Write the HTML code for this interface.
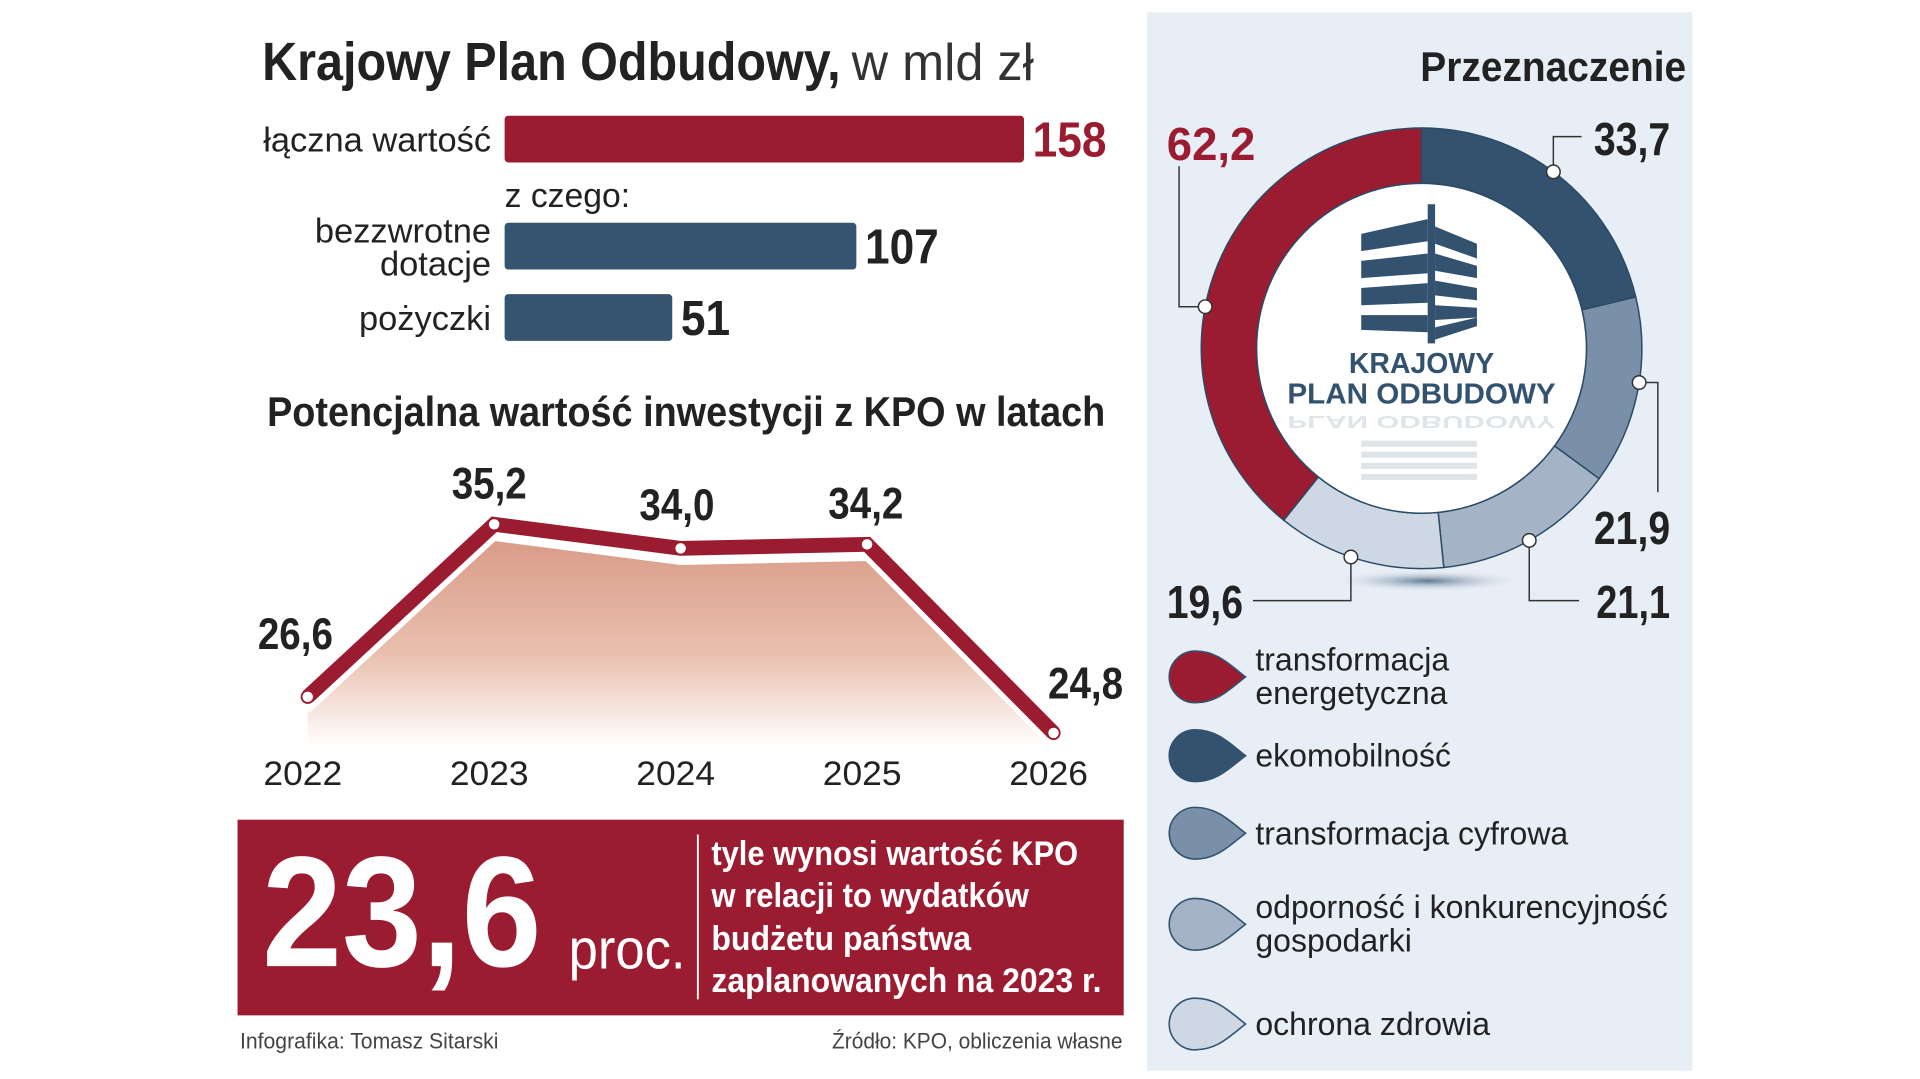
<!DOCTYPE html>
<html><head><meta charset="utf-8"><style>
html,body{margin:0;padding:0;background:#fff;width:1920px;height:1079px;overflow:hidden}
svg{display:block}
text{font-family:"Liberation Sans Narrow","Liberation Sans",sans-serif}
</style></head><body>
<svg id="svg" width="1920" height="1079" viewBox="0 0 1560 876.7" preserveAspectRatio="none" xmlns="http://www.w3.org/2000/svg">
<defs>
<linearGradient id="areaGrad" x1="0" y1="0" x2="0" y2="1">
<stop offset="0" stop-color="#d99c88"/><stop offset="0.55" stop-color="#e9bfae"/><stop offset="1" stop-color="#ffffff"/>
</linearGradient>
<radialGradient id="shadowGrad"><stop offset="0" stop-color="#3d5a78" stop-opacity="0.8"/><stop offset="1" stop-color="#e8eef6" stop-opacity="0"/></radialGradient>
</defs>
<rect x="932" y="10" width="443" height="860" fill="#e8eef6"/>

<text x="213" y="65" font-size="44" font-weight="bold" fill="#222" textLength="470" lengthAdjust="spacingAndGlyphs">Krajowy Plan Odbudowy,</text>
<text x="692" y="65" font-size="42" fill="#333" textLength="148" lengthAdjust="spacingAndGlyphs">w mld zł</text>

<g id="bars"></g>
<text x="410" y="168" font-size="28" fill="#222" textLength="102" lengthAdjust="spacingAndGlyphs">z czego:</text>

<text x="217" y="346" font-size="34" font-weight="bold" fill="#222" textLength="681" lengthAdjust="spacingAndGlyphs">Potencjalna wartość inwestycji z KPO w latach</text>
<g id="line"></g>

<rect x="193" y="666" width="720" height="159" fill="#9b1c31"/>
<text x="213" y="785" font-size="128" font-weight="bold" fill="#fff" textLength="227" lengthAdjust="spacingAndGlyphs">23,6</text>
<text x="462" y="787" font-size="46" fill="#fff" textLength="95" lengthAdjust="spacingAndGlyphs">proc.</text>
<line x1="567" y1="678" x2="567" y2="812" stroke="#fff" stroke-width="1.5"/>
<g font-size="28" font-weight="bold" fill="#fff">
<text x="578" y="703" textLength="298" lengthAdjust="spacingAndGlyphs">tyle wynosi wartość KPO</text>
<text x="578" y="737" textLength="258" lengthAdjust="spacingAndGlyphs">w relacji to wydatków</text>
<text x="578" y="772" textLength="211" lengthAdjust="spacingAndGlyphs">budżetu państwa</text>
<text x="578" y="806" textLength="317" lengthAdjust="spacingAndGlyphs">zaplanowanych na 2023 r.</text>
</g>
<text x="195" y="852" font-size="18" fill="#444" textLength="210" lengthAdjust="spacingAndGlyphs">Infografika: Tomasz Sitarski</text>
<text x="912" y="852" font-size="18" fill="#444" text-anchor="end" textLength="236" lengthAdjust="spacingAndGlyphs">Źródło: KPO, obliczenia własne</text>

<text x="1370" y="66" font-size="34" font-weight="bold" fill="#222" text-anchor="end" textLength="216" lengthAdjust="spacingAndGlyphs">Przeznaczenie</text>
<ellipse cx="1160" cy="472" rx="80" ry="9" fill="url(#shadowGrad)"/>
<g id="donut"></g>
<g fill="#33526f">
<polygon points="1106,190 1160,178 1160,196 1106,204"/>
<polygon points="1160,166 1166,166 1166,279 1160,279"/>
<polygon points="1106,212 1160,206 1160,222 1106,226"/>
<polygon points="1106,234 1160,230 1160,246 1106,248"/>
<polygon points="1106,256 1160,256 1160,270 1106,268"/>
<polygon points="1166,184 1200,198 1200,210 1166,198"/>
<polygon points="1166,206 1200,216 1200,226 1166,220"/>
<polygon points="1166,228 1200,234 1200,244 1166,240"/>
<polygon points="1166,248 1200,250 1200,258 1166,260"/>
<polygon points="1166,266 1200,258 1200,265 1166,276"/>
<text x="1155" y="303" font-size="23" font-weight="bold" text-anchor="middle" font-family="Liberation Sans, sans-serif" textLength="118" lengthAdjust="spacingAndGlyphs">KRAJOWY</text>
<text x="1155" y="328" font-size="23" font-weight="bold" text-anchor="middle" font-family="Liberation Sans, sans-serif" textLength="218" lengthAdjust="spacingAndGlyphs">PLAN ODBUDOWY</text>
<g opacity="0.15"><rect x="1106" y="358" width="94" height="5"/><rect x="1106" y="367" width="94" height="5"/><rect x="1106" y="376" width="94" height="5"/><rect x="1106" y="385" width="94" height="5"/>
<text x="1155" y="338" font-size="14" font-weight="bold" text-anchor="middle" transform="translate(0,676) scale(1,-1)" font-family="Liberation Sans, sans-serif" textLength="218" lengthAdjust="spacingAndGlyphs">PLAN ODBUDOWY</text></g>
</g>
<g id="legend"></g>
</svg>
<script>
const NS="http://www.w3.org/2000/svg";
function mk(tag,attrs,parent,txt){const e=document.createElementNS(NS,tag);for(const k in attrs)e.setAttribute(k,attrs[k]);if(txt!==undefined)e.textContent=txt;parent.appendChild(e);return e;}

// ---- bar data ----
const barLabels=[["łączna wartość"],["bezzwrotne","dotacje"],["pożyczki"]];
const barValues=[158,107,51];
// ---- line data ----
const years=["2022","2023","2024","2025","2026"];
const lineValues=[26.6,35.2,34.0,34.2,24.8];
const lineLabels=["26,6","35,2","34,0","34,2","24,8"];
// ---- donut data ----
const donutCats=["ekomobilność","transformacja cyfrowa","odporność i konkurencyjność gospodarki","ochrona zdrowia","transformacja energetyczna"];
const donutValues=[33.7,21.9,21.1,19.6,62.2];
const donutLabels=["33,7","21,9","21,1","19,6","62,2"];

// bars
const bars=document.getElementById('bars');
const bx=(v)=>v*422/158;
const barY=[94,181,239], barH=38;
barValues.forEach((v,i)=>{
  const r=mk('rect',{x:410,y:barY[i],width:bx(v),height:barH,rx:3,fill:i===0?'#9b1c31':'#35546f'},bars);
  
  
  const s=String(v);
  const t=mk('text',{x:410+bx(v)+7,y:barY[i]+33,'font-size':40,'font-weight':'bold',fill:i===0?'#9b1c31':'#222',textLength:s.length*20,lengthAdjust:'spacingAndGlyphs'},bars,s);
  
  
  const lines=barLabels[i];
  lines.forEach((l,j)=>{
    const y=lines.length===1?barY[i]+29:barY[i]+16+j*27;
    const lt=mk('text',{x:399,y:y,'font-size':28,fill:'#222','text-anchor':'end'},bars,l);
    
    
  });
});

// line
const lg=document.getElementById('line');
const lx=(i)=>250+i*151.5;
const ly=(v)=>426+(35.2-v)*16.3;
const pts=lineValues.map((v,i)=>[lx(i),ly(v)]);
let area='M'+pts[0][0]+','+(pts[0][1]+10);
pts.forEach(p=>area+=' L'+p[0]+','+(p[1]+12));
area+=' L'+pts[pts.length-1][0]+','+(pts[pts.length-1][1]+10)+' L'+pts[pts.length-1][0]+',605 L'+pts[0][0]+',605 Z';
const ar=mk('path',{d:area,fill:'url(#areaGrad)'},lg);


const wl=mk('polyline',{points:pts.map(p=>p[0]+','+(p[1]+11)).join(' '),fill:'none',stroke:'#fff','stroke-width':5},lg);


const rl=mk('polyline',{points:pts.map(p=>p.join(',')).join(' '),fill:'none',stroke:'#9b1c31','stroke-width':12,'stroke-linejoin':'miter'},lg);


const lblOff=[[-10,-51],[-4,-33],[-3,-35],[-1,-33],[26,-40]];
pts.forEach((p,i)=>{
  const c=mk('circle',{cx:p[0],cy:p[1],r:5,fill:'#fff',stroke:'#9b1c31','stroke-width':1.5},lg);
  
  
  const t=mk('text',{x:p[0]+lblOff[i][0],y:p[1]+lblOff[i][1]+12,'font-size':36,'font-weight':'bold',fill:'#222','text-anchor':'middle',textLength:61,lengthAdjust:'spacingAndGlyphs'},lg,lineLabels[i]);
  
  
  const y=mk('text',{x:p[0]-4,y:638,'font-size':28,fill:'#222','text-anchor':'middle',textLength:64,lengthAdjust:'spacingAndGlyphs'},lg,years[i]);
  
  
});

// donut
const dg=document.getElementById('donut');
const cx=1155,cy=283,R=179,r0=134;
const cols=['#33526f','#7a90a8','#a4b4c6','#cdd8e4','#9b1c31'];
const total=donutValues.reduce((a,b)=>a+b,0);
function pol(rad,a){return [cx+rad*Math.sin(a),cy-rad*Math.cos(a)];}
let acc=0;
donutValues.forEach((v,i)=>{
  const a0=acc/total*2*Math.PI;acc+=v;const a1=acc/total*2*Math.PI;
  const lg1=(a1-a0)>Math.PI?1:0;
  const p0=pol(R,a0),p1=pol(R,a1),q1=pol(r0,a1),q0=pol(r0,a0);
  const d=`M${p0} A${R},${R} 0 ${lg1} 1 ${p1} L${q1} A${r0},${r0} 0 ${lg1} 0 ${q0} Z`;
  const s=mk('path',{d:d,fill:cols[i],stroke:'#2b4a66','stroke-width':1.2},dg);
  
  
});
mk('circle',{cx:cx,cy:cy,r:r0,fill:'#fff',stroke:'#2b4a66','stroke-width':1.2},dg);
const callouts=[
  {lead:(d)=>`M${d} L${d[0]},111 L1285,111`,lx:1295,ly:126,col:'#222',w:62},
  {lead:(d)=>`M${d} L1347,${d[1]} L1347,400`,lx:1295,ly:442,col:'#222',w:62},
  {lead:(d)=>`M${d} L${d[0]},488 L1283,488`,lx:1297,ly:502,col:'#222',w:60},
  {lead:(d)=>`M${d} L${d[0]},488 L1018,488`,lx:948,ly:502,col:'#222',w:62},
  {lead:(d)=>`M${d} L958,${d[1]} L958,135`,lx:948,ly:130,col:'#9b1c31',w:72}
];
const dotAng=[0.48,0.45,0.51,0.55,0.44];
acc=0;
donutValues.forEach((v,i)=>{
  const a0=acc/total*2*Math.PI;acc+=v;const a1=acc/total*2*Math.PI;
  const a=a0+(a1-a0)*dotAng[i];
  const d=pol(R,a).map(n=>Math.round(n*10)/10);
  const c=callouts[i];
  const pl=mk('path',{d:c.lead(d),fill:'none',stroke:'#333','stroke-width':1.2},dg);
  
  
  const dot=mk('circle',{cx:d[0],cy:d[1],r:5.5,fill:'#fff',stroke:'#333','stroke-width':1.2},dg);
  
  
  const t=mk('text',{x:c.lx,y:c.ly,'font-size':38,'font-weight':'bold',fill:c.col,textLength:c.w,lengthAdjust:'spacingAndGlyphs'},dg,donutLabels[i]);
  
  
});

// legend
const leg=document.getElementById('legend');
const legOrder=[4,0,1,2,3];
const legY=[550,614,677,751,832];
const legText=[["transformacja","energetyczna"],["ekomobilność"],["transformacja cyfrowa"],["odporność i konkurencyjność","gospodarki"],["ochrona zdrowia"]];
legOrder.forEach((k,i)=>{
  const x=947,y=legY[i];
  const d=`M${x+65},${y} C${x+52},${y-10} ${x+42},${y-21} ${x+24},${y-21} A21,21 0 0 0 ${x+24},${y+21} C${x+42},${y+21} ${x+52},${y+10} ${x+65},${y} Z`;
  const ic=mk('path',{d:d,fill:cols[k],stroke:'#33526f','stroke-width':1.3},leg);
  
  
  const lines=legText[i];
  lines.forEach((l,j)=>{
    const ty=lines.length===1?y+9:y-5+j*27;
    const t=mk('text',{x:1020,y:ty,'font-size':26,fill:'#222'},leg,l);
    
    
  });
});
</script>
</body></html>
